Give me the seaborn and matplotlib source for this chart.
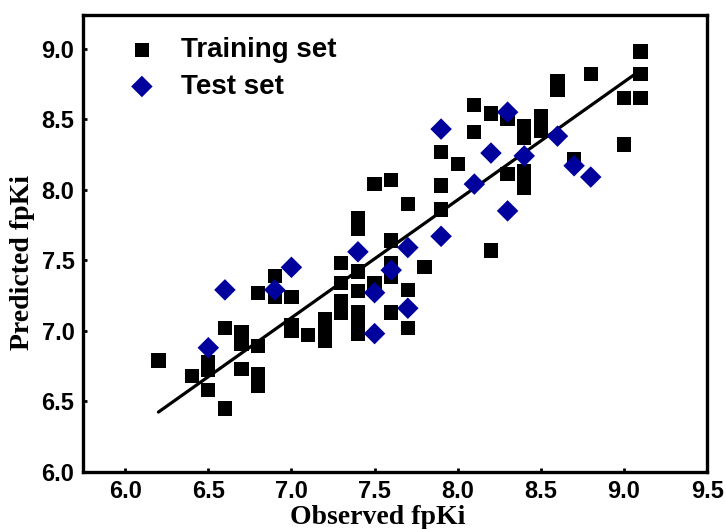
import numpy as np
import pandas as pd
import matplotlib
matplotlib.use('Agg')
import matplotlib.pyplot as plt
import seaborn as sns

# Observed vs predicted fpKi values
train_obs = [6.2, 6.4, 6.5, 6.5, 6.5, 6.6, 6.6, 6.7, 6.7, 6.7,
             6.8, 6.8, 6.8, 6.8, 6.9, 6.9, 7.0, 7.0, 7.0, 7.1,
             7.2, 7.2, 7.2, 7.3, 7.3, 7.3, 7.3, 7.4, 7.4, 7.4,
             7.4, 7.4, 7.4, 7.4, 7.5, 7.5, 7.6, 7.6, 7.6, 7.6,
             7.6, 7.7, 7.7, 7.7, 7.8, 7.9, 7.9, 7.9, 8.0, 8.1,
             8.1, 8.2, 8.2, 8.3, 8.3, 8.4, 8.4, 8.4, 8.4, 8.4,
             8.5, 8.5, 8.6, 8.6, 8.7, 8.8, 9.0, 9.0, 9.1, 9.1,
             9.1]
train_pred = [6.79, 6.68, 6.78, 6.72, 6.58, 7.02, 6.45, 6.99, 6.91, 6.73,
              7.27, 6.89, 6.69, 6.61, 7.39, 7.24, 7.24, 7.04, 7.00, 6.97,
              7.08, 7.00, 6.93, 7.48, 7.34, 7.21, 7.13, 7.80, 7.72, 7.42,
              7.28, 7.13, 7.05, 6.98, 8.04, 7.34, 8.07, 7.64, 7.48, 7.38,
              7.13, 7.90, 7.29, 7.02, 7.45, 8.27, 8.03, 7.86, 8.18, 8.60,
              8.41, 8.54, 7.57, 8.50, 8.11, 8.45, 8.37, 8.13, 8.07, 8.01,
              8.52, 8.42, 8.77, 8.71, 8.22, 8.82, 8.65, 8.32, 8.98, 8.82,
              8.65]

test_obs = [6.5, 6.6, 6.9, 7.0, 7.4, 7.5, 7.5, 7.6, 7.7, 7.7,
            7.9, 7.9, 8.1, 8.2, 8.3, 8.3, 8.4, 8.6, 8.7, 8.8]
test_pred = [6.88, 7.29, 7.29, 7.45, 7.56, 7.27, 6.98, 7.43, 7.59, 7.16,
             8.43, 7.67, 8.04, 8.26, 8.55, 7.85, 8.24, 8.38, 8.17, 8.09]

x_ticks = [6.0, 6.5, 7.0, 7.5, 8.0, 8.5, 9.0, 9.5]
y_ticks = [6.0, 6.5, 7.0, 7.5, 8.0, 8.5, 9.0]

train = pd.DataFrame({'obs': train_obs, 'pred': train_pred})
test = pd.DataFrame({'obs': test_obs, 'pred': test_pred})

sns.set_style('ticks')
plt.rcParams['font.family'] = ['Liberation Sans', 'DejaVu Sans']
plt.rcParams['text.color'] = 'black'
plt.rcParams['axes.labelcolor'] = 'black'
plt.rcParams['xtick.color'] = 'black'
plt.rcParams['ytick.color'] = 'black'

fig = plt.figure(figsize=(7.26, 5.29), dpi=100)
ax = fig.add_axes([0.114, 0.108, 0.86, 0.864])

# training points, fitted line, then test points on top
sns.scatterplot(data=train, x='obs', y='pred', marker='s', s=105, color='black',
                edgecolor='none', linewidth=0, label='Training set', ax=ax, zorder=2)
sns.regplot(data=train, x='obs', y='pred', scatter=False, ci=None, truncate=True,
            color='black', line_kws={'linewidth': 2.3, 'zorder': 3}, ax=ax)
sns.scatterplot(data=test, x='obs', y='pred', marker='D', s=120, color='#00009C',
                edgecolor='none', linewidth=0, label='Test set', ax=ax, zorder=4)

ax.set_xlim(5.745, 9.5)
ax.set_ylim(6.0, 9.24)
ax.set_xticks(x_ticks)
ax.set_yticks(y_ticks)
ax.set_xticklabels([f'{t:.1f}' for t in x_ticks])
ax.set_yticklabels([f'{t:.1f}' for t in y_ticks])
ax.tick_params(direction='in', length=3, width=2, pad=6, labelsize=17)
for lab in ax.get_xticklabels() + ax.get_yticklabels():
    lab.set_fontweight('bold')

for sp in ax.spines.values():
    sp.set_linewidth(2.4)
    sp.set_color('black')

ax.set_xlabel('Observed fpKi', family='Liberation Serif', fontsize=20, fontweight='bold')
ax.set_ylabel('Predicted fpKi', family='Liberation Serif', fontsize=20, fontweight='bold')
ax.xaxis.set_label_coords(0.473, -0.073)
ax.yaxis.set_label_coords(-0.077, 0.459)

ax.legend(loc='upper left', bbox_to_anchor=(0.068, 0.951), frameon=False,
          borderpad=0, borderaxespad=0, handlelength=1.2, handletextpad=0.8,
          labelspacing=0.38, prop={'size': 20, 'weight': 'bold'})

fig.savefig('out.png', dpi=100)
